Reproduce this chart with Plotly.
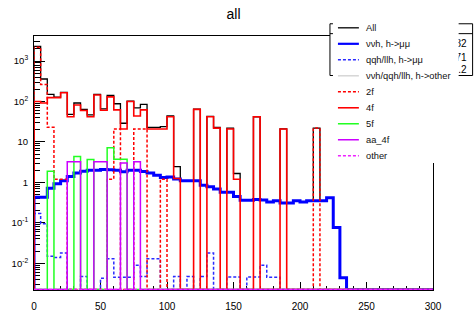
import plotly.graph_objects as go

# ---- binning: 60 bins of width 5 on [0, 300] ----
x_lo, x_hi, n_bins = 0.0, 300.0, 60
bin_w = (x_hi - x_lo) / n_bins
edges = [x_lo + i * bin_w for i in range(n_bins + 1)]

# ---- bin contents (events per bin) ----
all_vals = [
    2300, 360, 150, 128, 168, 48, 92, 64, 47, 150,
    66, 142, 88, 29, 102, 70, 85, 23, 23, 24,
    44, 2.45, 1.1, 1.1, 65, 0.85, 43, 23, 0.57, 22,
    1.66, 0.36, 0.36, 42, 0.37, 0.33, 0.35, 21, 0.31, 0.35,
    0.33, 0.35, 22, 0.35, 0.42, 0.077, 0.0044, 0, 0, 0,
    0, 0, 0, 0, 0, 0, 0, 0, 0, 0,
]
vvh_mumu = [
    0.43, 0.43, 0.72, 0.93, 1.1, 1.4, 1.7, 1.9, 2.0, 2.0,
    2.1, 2.05, 2.0, 1.83, 2.0, 2.0, 1.85, 1.7, 1.5, 1.33,
    1.36, 1.22, 1.1, 1.1, 1.1, 0.85, 0.78, 0.69, 0.57, 0.57,
    0.45, 0.36, 0.36, 0.38, 0.37, 0.33, 0.35, 0.31, 0.31, 0.35,
    0.33, 0.35, 0.35, 0.35, 0.42, 0.077, 0.0044, 0, 0, 0,
    0, 0, 0, 0, 0, 0, 0, 0, 0, 0,
]
qqh_llh_mumu = [
    0.17, 0.095, 0.015, 0.014, 0.018, 0, 0, 0.0047, 0, 0,
    0.0043, 0.013, 0.0045, 0.0045, 0.0045, 0.009, 0.0047, 0.013, 0.013, 0,
    0, 0.0047, 0, 0.0047, 0, 0.0047, 0.018, 0, 0, 0.0046,
    0.0046, 0, 0.0046, 0.0046, 0.009, 0.0045, 0.0045, 0, 0, 0,
    0, 0, 0, 0, 0, 0, 0, 0, 0, 0,
    0, 0, 0, 0, 0, 0, 0, 0, 0, 0,
]
h_other = [
    0, 0, 0, 0, 0, 0, 0, 0, 0, 0,
    0, 0, 0, 0, 0, 0, 0, 0, 0, 0,
    0, 0, 0, 0, 0, 0, 0, 0, 0, 0,
    0, 0, 0, 0, 0, 0, 0, 0, 0, 0,
    0, 0, 0, 0, 0, 0, 0, 0, 0, 0,
    0, 0, 0, 0, 0, 0, 0, 0, 0, 0,
]
bkg_2f = [
    2200, 265, 23, 1.2, 1.2, 0, 0, 0, 0, 0,
    0, 1.2, 21, 0, 0, 21, 21, 0, 0, 1.2,
    0, 0, 0, 0, 0, 0, 0, 0, 0, 0,
    0, 0, 0, 0, 0, 0, 0, 0, 0, 0,
    0, 0, 22, 0, 0, 0, 0, 0, 0, 0,
    0, 0, 0, 0, 0, 0, 0, 0, 0, 0,
]
bkg_4f = [
    100, 92, 125, 125, 165, 42, 82, 60, 42, 145,
    61, 130, 62, 21, 100, 44, 62, 21, 21, 21,
    42, 1.25, 0, 0, 64, 0, 42, 22, 0, 21,
    1.2, 0, 0, 42, 0, 0, 0, 21, 0, 0,
    0, 0, 0, 0, 0, 0, 0, 0, 0, 0,
    0, 0, 0, 0, 0, 0, 0, 0, 0, 0,
]
bkg_5f = [
    0, 0, 1.9, 0, 0, 0, 4.4, 0, 3.7, 0,
    0, 7.2, 3.75, 3.75, 0, 0, 0, 0, 0, 0,
    0, 0, 0, 0, 0, 0, 0, 0, 0, 0,
    0, 0, 0, 0, 0, 0, 0, 0, 0, 0,
    0, 0, 0, 0, 0, 0, 0, 0, 0, 0,
    0, 0, 0, 0, 0, 0, 0, 0, 0, 0,
]
bkg_aa_4f = [
    0, 0, 0, 0, 0, 3.25, 3.25, 0, 0, 3.25,
    3.25, 0, 0, 3.0, 0, 3.25, 0, 0, 0, 0,
    0, 0, 0, 0, 0, 0, 0, 0, 0, 0,
    0, 0, 0, 0, 0, 0, 0, 0, 0, 0,
    0, 0, 0, 0, 0, 0, 0, 0, 0, 0,
    0, 0, 0, 0, 0, 0, 0, 0, 0, 0,
]
bkg_other = [
    0, 0, 0, 0, 0, 0, 0, 0, 0, 0,
    0, 0, 0, 0, 0, 0, 0, 0, 0, 0,
    0, 0, 0, 0, 0, 0, 0, 0, 0, 0,
    0, 0, 0, 0, 0, 0, 0, 0, 0, 0,
    0, 0, 0, 0, 0, 0, 0, 0, 0, 0,
    0, 0, 0, 0, 0, 0, 0, 0, 0, 0,
]

# axis labels
x_tick_vals = [0, 50, 100, 150, 200, 250, 300]
y_tick_vals = [0.01, 0.1, 1, 10, 100, 1000]
y_tick_text = ["10<sup>-2</sup>", "10<sup>-1</sup>", "1", "10",
               "10<sup>2</sup>", "10<sup>3</sup>"]

# statistics box entries
stat_names = ["Entries", "Mean", "Std Dev"]
stat_values = ["11432", "30.71", "41.2"]

# ---- series styling, in drawing / legend order ----
series = [
    ("All", all_vals, "#000000", 1.3, "solid"),
    ("\u03bd\u03bdh, h->\u03bc\u03bc", vvh_mumu, "#0000ff", 3.0, "solid"),
    ("qqh/llh, h->\u03bc\u03bc", qqh_llh_mumu, "#2a2aff", 1.5, "3px,2px"),
    ("\u03bd\u03bdh/qqh/llh, h->other", h_other, "#d6d6d6", 1.5, "solid"),
    ("2f", bkg_2f, "#ff0000", 1.5, "3px,2px"),
    ("4f", bkg_4f, "#ff0000", 1.6, "solid"),
    ("5f", bkg_5f, "#22ff22", 1.5, "solid"),
    ("aa_4f", bkg_aa_4f, "#cc00ff", 1.5, "solid"),
    ("other", bkg_other, "#ee22ff", 1.5, "3px,2px"),
]

# ---- page geometry (pixels) ----
W, H = 475, 324
mL, mR, mT, mB = 33.3, 41.7, 36, 18
pw, ph = W - mL - mR, H - mT - mB


def px(x):
    """page pixel column -> paper fraction"""
    return (x - mL) / pw


def py(y):
    """page pixel row -> paper fraction"""
    return 1 - (y - mT) / ph


log_lo, log_hi = -2.66, 3.62
floor_val = 10 ** (log_lo + 0.012)


def step_path(vals):
    """Histogram outline: empty bins sit on the frame bottom."""
    v = [val if val > 0 else floor_val for val in vals]
    xs = [edges[0]] + edges[:-1] + [edges[-1], edges[-1]]
    ys = [floor_val] + v + [v[-1], floor_val]
    return xs, ys


fig = go.Figure()
for name, vals, color, width, dash in series:
    xs, ys = step_path(vals)
    fig.add_trace(go.Scatter(
        x=xs, y=ys, mode="lines", name=name, showlegend=False,
        line=dict(color=color, width=width, dash=dash, shape="hv"),
        hoverinfo="skip",
    ))

font_family = "Liberation Sans, Arial, sans-serif"
no_line = dict(width=0)

# ---- statistics box (partly hidden behind the legend box) ----
sb_l, sb_r, sb_t, sb_b, sb_sep = 330, 473, 23, 78, 33.5
stat_rows_y = [43, 57.5, 71]
shapes = [
    dict(type="rect", xref="paper", yref="paper", layer="above",
         x0=px(sb_l), x1=px(sb_r), y0=py(sb_b), y1=py(sb_t),
         line=dict(color="black", width=1), fillcolor="white"),
    dict(type="line", xref="paper", yref="paper", layer="above",
         x0=px(sb_l), x1=px(sb_r), y0=py(sb_sep), y1=py(sb_sep),
         line=dict(color="black", width=1)),
    dict(type="rect", xref="paper", yref="paper", layer="above",
         x0=px(sb_l), x1=px(sb_r), y0=py(sb_sep), y1=py(sb_t),
         line=no_line, fillcolor="rgba(0,0,0,0)",
         label=dict(text="all", textposition="middle center",
                    font=dict(family=font_family, size=10, color="black"))),
]
for yy, nm, val in zip(stat_rows_y, stat_names, stat_values):
    shapes.append(dict(
        type="rect", xref="paper", yref="paper", layer="above",
        x0=px(sb_l), x1=px(sb_r), y0=py(yy + 6), y1=py(yy - 6),
        line=no_line, fillcolor="rgba(0,0,0,0)",
        label=dict(text=nm, textposition="middle left", padding=4,
                   font=dict(family=font_family, size=10, color="black"))))
    shapes.append(dict(
        type="rect", xref="paper", yref="paper", layer="above",
        x0=px(sb_l), x1=px(sb_r), y0=py(yy + 6), y1=py(yy - 6),
        line=no_line, fillcolor="rgba(0,0,0,0)",
        label=dict(text=val, textposition="middle right", padding=3,
                   font=dict(family=font_family, size=10, color="black"))))

# ---- legend box ----
lg_l, lg_r, lg_t, lg_b = 333, 459, 18, 171
shapes.append(dict(type="rect", xref="paper", yref="paper", layer="above",
                   x0=px(lg_l), x1=px(lg_r), y0=py(lg_b), y1=py(lg_t),
                   line=no_line, fillcolor="white"))
annotations = []
row0, row_gap = 27.3, 17.0
for i, (name, vals, color, width, dash) in enumerate(series):
    yy = row0 + i * row_gap
    shapes.append(dict(type="line", xref="paper", yref="paper", layer="above",
                       x0=px(338), x1=px(359), y0=py(yy), y1=py(yy),
                       line=dict(color=color, width=min(width, 2.2), dash=dash)))
    annotations.append(dict(xref="paper", yref="paper", x=px(364), y=py(yy),
                            xanchor="left", yanchor="middle", showarrow=False,
                            text=name, font=dict(family=font_family, size=9.3,
                                                 color="#111111")))

fig.update_layout(
    width=W, height=H,
    margin=dict(l=mL, r=mR, t=mT, b=mB, pad=0),
    paper_bgcolor="white", plot_bgcolor="white",
    font=dict(family=font_family, color="black"),
    title=dict(text="all", x=0.5, xref="paper", xanchor="center",
               y=1 - 14 / H, yref="container", yanchor="middle",
               font=dict(family=font_family, size=14, color="black")),
    xaxis=dict(range=[x_lo, x_hi], tickvals=x_tick_vals,
               ticks="inside", ticklen=8, tickwidth=1, tickcolor="black",
               minor=dict(ticks="inside", ticklen=4, dtick=10,
                          tickcolor="black", showgrid=False),
               showgrid=False, zeroline=False, showline=True,
               linecolor="black", linewidth=1, mirror=True,
               layer="below traces", ticklabelstandoff=7,
               tickfont=dict(family=font_family, size=10, color="black")),
    yaxis=dict(type="log", range=[log_lo, log_hi],
               tickvals=y_tick_vals, ticktext=y_tick_text,
               ticks="inside", ticklen=11, tickwidth=1, tickcolor="black",
               minor=dict(ticks="inside", ticklen=6, dtick="D1",
                          tickcolor="black", showgrid=False),
               showgrid=False, zeroline=False, showline=True,
               linecolor="black", linewidth=1, mirror=True,
               layer="below traces", ticklabelstandoff=3,
               tickfont=dict(family=font_family, size=9.5, color="black")),
    shapes=shapes,
    annotations=annotations,
)

fig.write_html("out.html")
